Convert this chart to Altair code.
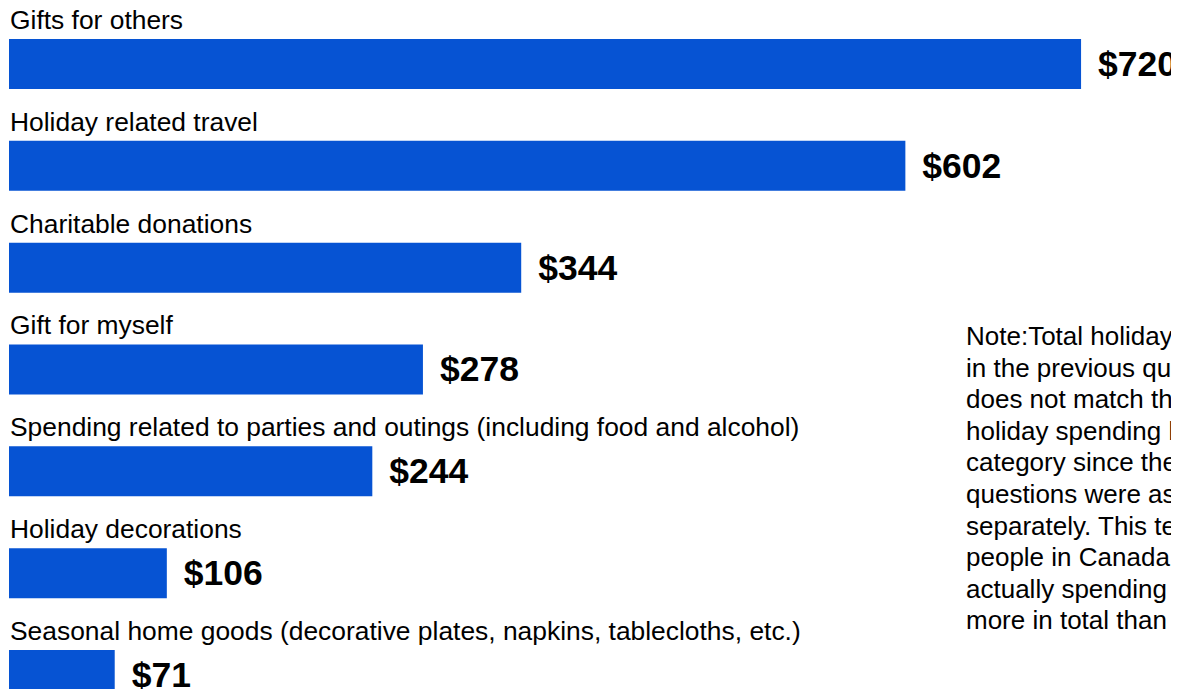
import altair as alt
import pandas as pd

categories = [
    "Gifts for others",
    "Holiday related travel",
    "Charitable donations",
    "Gift for myself",
    "Spending related to parties and outings (including food and alcohol)",
    "Holiday decorations",
    "Seasonal home goods (decorative plates, napkins, tablecloths, etc.)",
]
values = [720, 602, 344, 278, 244, 106, 71]
value_labels = ["$720", "$602", "$344", "$278", "$244", "$106", "$71"]
note_lines = [
    "Note:Total holiday spending",
    "in the previous question",
    "does not match the total",
    "holiday spending by",
    "category since the",
    "questions were asked",
    "separately. This tells us",
    "people in Canada are",
    "actually spending",
    "more in total than they think.",
]

df = pd.DataFrame({
    "category": categories,
    "value": values,
    "label": value_labels,
    "row": list(range(len(categories))),
})

FONT = "Liberation Sans, Arial, Helvetica, sans-serif"
W, H = 1162, 681
ROW_PX = 101.83

x_scale = alt.Scale(domain=[0, 780.4], nice=False, zero=False, padding=0)
y_scale = alt.Scale(domain=[-0.55, -0.55 + H / ROW_PX], reverse=True, nice=False, zero=False, padding=0)

base = alt.Chart(df).encode(y=alt.Y("row:Q", scale=y_scale, axis=None))

bars = base.mark_bar(orient="horizontal", size=50, color="#0653D3").encode(
    x=alt.X("value:Q", scale=x_scale, axis=None),
    x2=alt.X2("zero:Q"),
).transform_calculate(zero="0")

cats = base.transform_calculate(zero="0").mark_text(
    align="left", baseline="alphabetic", font=FONT, fontSize=26.4, dx=1, dy=-35, color="#000000"
).encode(
    x=alt.X("zero:Q", scale=x_scale, axis=None),
    text="category:N",
)

vals = base.mark_text(
    align="left", baseline="middle", font=FONT, fontSize=35.5, fontWeight="bold", dx=17, dy=1, color="#000000"
).encode(
    x=alt.X("value:Q", scale=x_scale, axis=None),
    text="label:N",
)

note = alt.Chart(pd.DataFrame({"n": [0]})).mark_text(
    text=note_lines, align="left", baseline="alphabetic", font=FONT, fontSize=26,
    lineHeight=31.6, color="#000000"
).encode(x=alt.value(957), y=alt.value(337))

chart = alt.layer(bars, cats, vals, note).properties(
    width=W, height=H,
    autosize=alt.AutoSizeParams(type="none"),
    padding={"left": 1, "top": 0, "right": 0, "bottom": 0},
    background="white",
).configure_view(stroke=None)

chart.save("out.html", embed_options={"renderer": "svg", "actions": False})
